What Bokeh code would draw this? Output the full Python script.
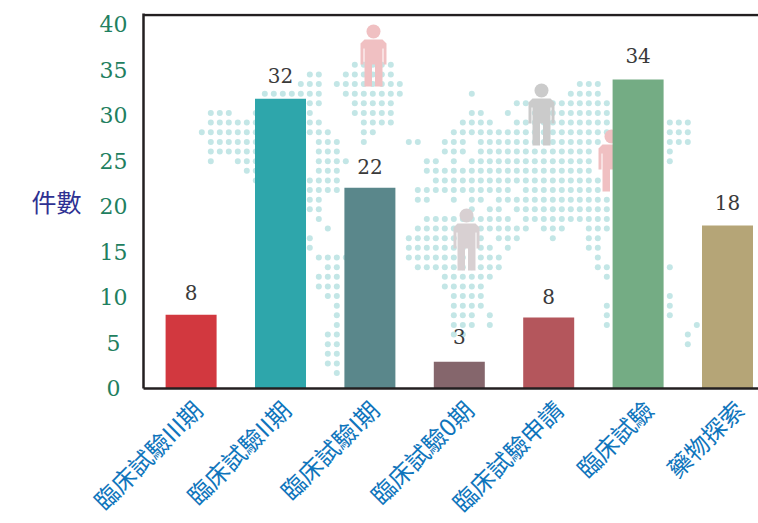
from math import pi
from bokeh.plotting import figure
from bokeh.core.properties import value
from bokeh.models import Range1d, FixedTicker, ColumnDataSource, LabelSet
from bokeh.embed import file_html
from bokeh.resources import INLINE

categories = ["臨床試驗III期", "臨床試驗II期", "臨床試驗I期", "臨床試驗0期", "臨床試驗申請", "臨床試驗", "藥物探索"]
bar_values = [8.1, 31.85, 22.05, 2.95, 7.8, 33.95, 17.9]
bar_labels = ["8", "32", "22", "3", "8", "34", "18"]
label_heights = [10.55, 34.4, 24.4, 5.7, 10.1, 36.6, 20.4]
bar_colors = ["#d2383f", "#2ea6ab", "#5a878b", "#85666c", "#b4565c", "#74ac84", "#b5a577"]
y_ticks = [0, 5, 10, 15, 20, 25, 30, 35, 40]

# decorative dot map: row -> occupied grid columns
map_rows = [
    [17, 18, 19, 20, 21],
    [12, 13, 16, 17, 18, 19, 20, 21],
    [11, 12, 13, 15, 16, 17, 18, 19, 20, 21, 22, 42, 43, 44],
    [7, 8, 9, 10, 11, 12, 13, 16, 17, 18, 19, 20, 21, 22, 30, 41, 42, 43, 44],
    [12, 13, 17, 18, 19, 20, 21, 35, 36, 37, 38, 39, 40, 41, 42, 43, 44, 45],
    [1, 2, 3, 6, 12, 17, 18, 19, 20, 21, 30, 31, 34, 37, 38, 39, 40, 41, 42, 43, 44, 45],
    [1, 2, 3, 4, 5, 6, 12, 13, 18, 19, 20, 21, 29, 30, 31, 32, 35, 36, 37, 38, 39, 40, 41, 42, 43, 44, 45, 52, 53, 54],
    [0, 1, 2, 3, 4, 5, 6, 12, 13, 14, 18, 19, 28, 29, 30, 31, 32, 33, 34, 35, 36, 37, 38, 39, 40, 41, 42, 43, 44, 45, 52, 53, 54],
    [1, 2, 3, 4, 5, 6, 13, 14, 15, 18, 23, 24, 27, 28, 29, 31, 32, 33, 34, 35, 36, 37, 38, 39, 40, 41, 42, 43, 44, 52, 53, 54],
    [1, 2, 3, 4, 5, 6, 13, 14, 15, 27, 28, 29, 31, 32, 33, 34, 35, 36, 37, 38, 39, 40, 41, 42, 43, 52],
    [1, 4, 5, 6, 13, 14, 15, 16, 25, 26, 28, 30, 31, 32, 33, 34, 35, 36, 37, 38, 39, 40, 41, 42, 43, 52],
    [5, 6, 13, 14, 15, 25, 26, 27, 28, 29, 30, 31, 32, 33, 34, 35, 36, 37, 38, 39, 40, 41, 42, 43],
    [6, 12, 13, 14, 15, 26, 27, 28, 29, 30, 31, 32, 33, 34, 35, 36, 37, 38, 39, 40, 41, 42, 43, 44],
    [12, 13, 14, 15, 24, 25, 26, 27, 28, 29, 30, 31, 32, 33, 34, 36, 37, 38, 39, 40, 41, 42, 43, 44],
    [12, 13, 24, 25, 28, 30, 31, 33, 34, 35, 36, 37, 38, 39, 40, 41, 42, 43, 44, 45],
    [12, 13, 30, 32, 33, 35, 36, 37, 38, 39, 40, 41, 42, 43, 44, 45],
    [13, 25, 26, 27, 28, 29, 30, 31, 32, 33, 34, 36, 37, 38, 39, 40, 41, 42, 43, 44, 45],
    [14, 24, 25, 26, 27, 28, 29, 30, 31, 32, 33, 34, 35, 36, 38, 39, 40, 43, 44, 45],
    [12, 23, 24, 25, 26, 27, 28, 29, 30, 31, 33, 34, 35, 39, 43, 44],
    [12, 23, 24, 25, 26, 27, 28, 29, 30, 31, 32, 34, 43, 44],
    [13, 14, 15, 16, 23, 24, 25, 26, 27, 28, 29, 30, 31, 32, 33, 44],
    [14, 15, 24, 25, 26, 27, 28, 29, 30, 31, 32, 33, 44, 45, 52],
    [13, 14, 15, 27, 28, 29, 30, 31, 32, 45],
    [13, 14, 15, 27, 28, 29, 30, 31],
    [14, 15, 28, 29, 30, 31, 52],
    [15, 28, 29, 30, 31, 45, 52],
    [15, 28, 29, 30, 32, 45, 52],
    [15, 28, 29, 30, 32, 45, 55],
    [14, 15, 28, 29, 54],
    [14, 15, 54],
    [14, 15],
    [14, 15],
    [15],
]

# decorative person icons: head centre on the canvas, colour
person_heads = [(373, 31), (541, 90), (466, 215), (611, 136)]
person_colors = ["#f0c0c2", "#cbcbcb", "#d8d0d2", "#f0c0c2"]

W, H = 758, 523
FL, FT, FB = 143, 13, 388           # frame edges inside the figure
PX = 89.4                           # px per category
C0 = 190.6                          # canvas x of the first category
X0 = (FL - C0) / PX
X1 = X0 + (W - FL) / PX
YTOP = (FB - FT) / 9.1

p = figure(width=W, height=H, output_backend="svg", toolbar_location=None,
           x_range=Range1d(X0, X1), y_range=Range1d(0, YTOP),
           frame_width=W - FL, frame_height=FB - FT,
           min_border_left=FL, min_border_right=0, min_border_top=FT,
           min_border_bottom=H - FB, background_fill_color="white",
           outline_line_color=None, tools="")
p.grid.visible = False

def cx(px):
    return (px - C0) / PX
def cy(py):
    return (FB - py) / 9.1

xs, ys = [], []
for r, cols in enumerate(map_rows):
    for c in cols:
        xs.append(cx(201.3 + 9.0 * c))
        ys.append(cy(64.3 + 9.635 * r))
p.scatter(xs, ys, size=6, fill_color="#c3e6e6", line_color=None)

shape = [(-9, 8), (9, 8), (13, 12), (13, 33), (10, 33), (10, 17), (9, 17), (9, 55), (1.5, 55), (1.5, 33),
         (-1.5, 33), (-1.5, 55), (-9, 55), (-9, 17), (-10, 17), (-10, 33), (-13, 33), (-13, 12)]
for (hx, hy), col in zip(person_heads, person_colors):
    p.patch([cx(hx + dx) for dx, _ in shape], [cy(hy + dy) for _, dy in shape], fill_color=col, line_color=None)
    p.scatter([cx(hx)], [cy(hy)], size=14, fill_color=col, line_color=None)

idx = list(range(len(categories)))
src = ColumnDataSource(dict(x=idx, top=bar_values, color=bar_colors, label=bar_labels, ly=label_heights))
p.vbar(x="x", top="top", bottom=0, width=51 / PX, fill_color="color", line_color=None, source=src)
p.add_layout(LabelSet(x="x", y="ly", text="label", source=src, text_align="center",
                      text_baseline="middle", text_font=value("DejaVu Serif"), text_font_size="20px", text_color="#3a3a3a"))

label_shift = [6, 5, 4, 9, 9, 10, 11]
ax = p.xaxis[0]
label_ticks = [i + s / PX for i, s in zip(idx, label_shift)]
ax.ticker = FixedTicker(ticks=label_ticks)
ax.major_label_overrides = {t: c for t, c in zip(label_ticks, categories)}
ax.major_label_orientation = pi / 4
ax.major_label_text_font = "Noto Sans CJK TC"
ax.major_label_text_font_size = "24px"
ax.major_label_text_color = "#0f75bc"
ax.major_label_standoff = 10
ax.major_tick_line_color = None
ax.minor_tick_line_color = None
ax.axis_line_color = "#231f20"
ax.axis_line_width = 2.5

ay = p.yaxis[0]
ay.ticker = FixedTicker(ticks=y_ticks)
ay.major_label_overrides = {0: "0\u00a0", 5: "5\u00a0"}
ay.major_label_text_font = "DejaVu Serif"
ay.major_label_text_font_size = "22px"
ay.major_label_text_color = "#1f8060"
ay.major_label_standoff = 10
ay.major_tick_line_color = None
ay.minor_tick_line_color = None
ay.axis_line_color = "#231f20"
ay.axis_line_width = 2.5
ay.axis_label = "件數"
ay.axis_label_orientation = "horizontal"
ay.axis_label_text_font = "Noto Sans CJK TC"
ay.axis_label_text_font_size = "25px"
ay.axis_label_text_font_style = "normal"
ay.axis_label_text_color = "#2e3192"
ay.axis_label_standoff = 15

# top spine
p.line([X0, X1], [cy(14.5), cy(14.5)], line_color="#231f20", line_width=2.5)

open("out.html", "w").write(file_html(p, INLINE))
